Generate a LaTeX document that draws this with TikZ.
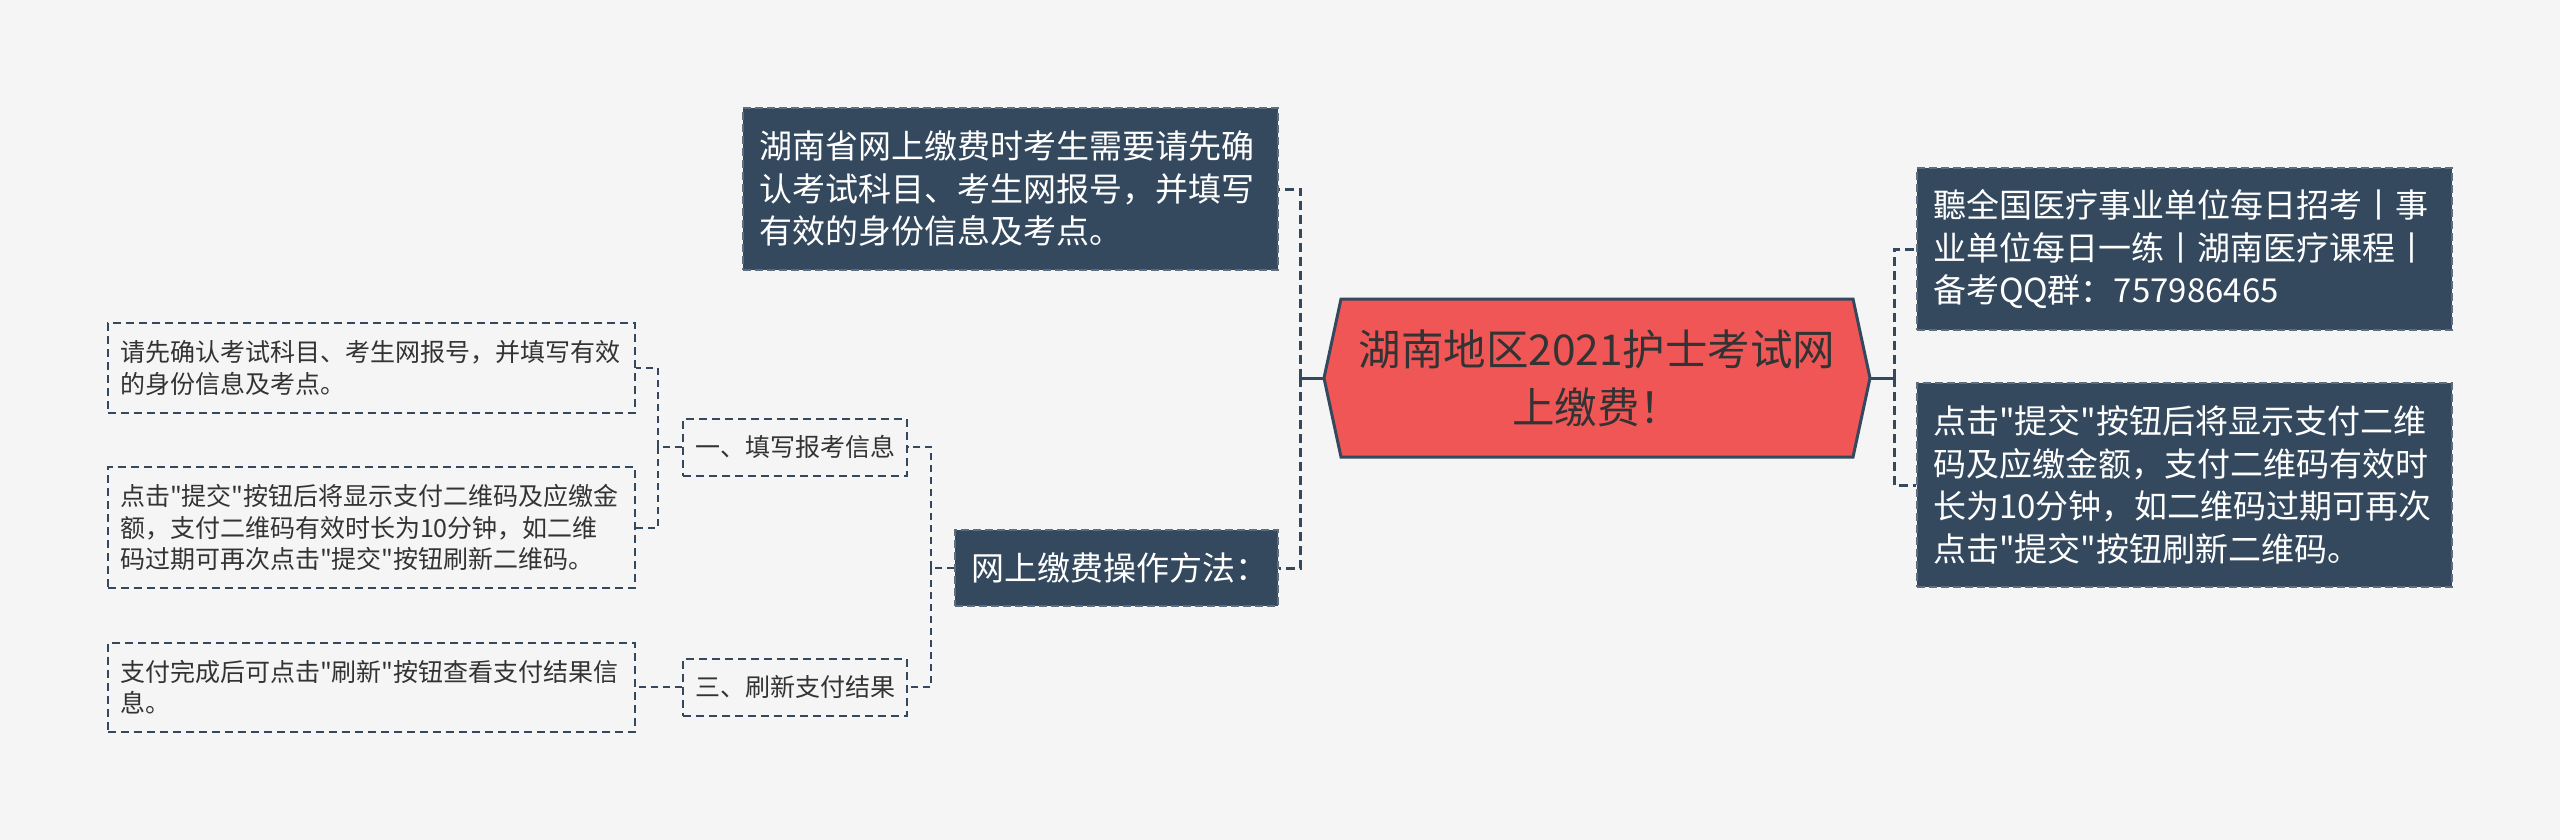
\documentclass[tikz,border=0pt]{standalone}
\usepackage{fontspec}
\newfontfamily\cjkfont{Noto Sans CJK SC}
\definecolor{pagebg}{HTML}{F5F5F5}
\definecolor{slate}{HTML}{34495E}
\definecolor{rootred}{HTML}{F05656}
\definecolor{ink}{HTML}{333333}
\tikzstyle{hexa}=[fill=rootred,draw=slate,line width=3pt,line join=miter]
\tikzstyle{rootnode}=[font=\cjkfont\fontsize{42.5}{58}\selectfont,text=ink,align=center,minimum width=546pt,minimum height=158pt,inner sep=0pt]
\tikzstyle{darkbox}=[fill=slate,draw=slate!80!white,dash pattern=on 8pt off 4pt,line width=1.5pt,text=white,align=left,inner xsep=16pt,inner ysep=0pt,text width=503pt,font=\cjkfont\fontsize{33}{42.5}\selectfont]
\tikzstyle{lightbox}=[draw=slate,dash pattern=on 8pt off 5pt,line width=2pt,text=ink,align=left,inner xsep=12pt,inner ysep=0pt,text width=503pt,font=\cjkfont\fontsize{25}{31.5}\selectfont]
\tikzstyle{trunk}=[draw=slate,line width=3pt]
\tikzstyle{link}=[draw=slate,line width=3pt,dash pattern=on 9pt off 5pt]
\tikzstyle{sublink}=[draw=slate,line width=2pt,dash pattern=on 7pt off 5pt]

\begin{document}
\begin{tikzpicture}[x=1pt,y=-1pt]
       \fill[pagebg] (0,0) rectangle (2560,840);
       \useasboundingbox (0,0) rectangle (2560,840);

       \filldraw[hexa] (1324,378) -- (1341,299) -- (1853,299) -- (1870,378) -- (1853,457) -- (1341,457) -- cycle;
       \node[rootnode] (root) at (1597,378) {湖南地区2021护士考试网\\上缴费！};

       \node[darkbox,minimum height=162pt] (upleft) at (1010.5,189) {湖南省网上缴费时考生需要请先确\\认考试科目、考生网报号，并填写\\有效的身份信息及考点。};
       \node[darkbox,text width=291pt,minimum height=76pt] (howto) at (1116.5,568) {网上缴费操作方法：};
       \node[darkbox,minimum height=162pt] (rtop) at (2184.5,249) {聽全国医疗事业单位每日招考丨事\\业单位每日一练丨湖南医疗课程丨\\备考QQ群：757986465};
       \node[darkbox,minimum height=204pt] (rbot) at (2184.5,485) {点击"提交"按钮后将显示支付二维\\码及应缴金额，支付二维码有效时\\长为10分钟，如二维码过期可再次\\点击"提交"按钮刷新二维码。};

       \node[lightbox,text width=200pt,minimum height=57pt] (sec1) at (795,447) {一、填写报考信息};
       \node[lightbox,text width=200pt,minimum height=57pt] (sec3) at (795,687) {三、刷新支付结果};
       \foreach \pos/\name/\h/\txt in {{(371.5,368)/leaf1/90/{请先确认考试科目、考生网报号，并填写有效\\的身份信息及考点。}},
           {(371.5,527.5)/leaf2/121/{点击"提交"按钮后将显示支付二维码及应缴金\\额，支付二维码有效时长为10分钟，如二维\\码过期可再次点击"提交"按钮刷新二维码。}},
           {(371.5,687)/leaf3/89/{支付完成后可点击"刷新"按钮查看支付结果信\\息。}}} {
           \node[lightbox,minimum height=\h pt] (\name) at \pos {\txt};
       }

       \draw[trunk] (root.west) -- ++(-23,0) coordinate (lbus);
       \draw[trunk] (root.east) -- ++(24,0) coordinate (rbus);
       \draw[link] (lbus) |- (upleft.east);
       \draw[link] (lbus) |- (howto.east);
       \draw[link] (rbus) |- (rtop.west);
       \draw[link] (rbus) |- (rbot.west);
       \draw[sublink] (howto.west) -- ++(-23,0) coordinate (hbus);
       \draw[sublink] (hbus) |- (sec1.east);
       \draw[sublink] (hbus) |- (sec3.east);
       \draw[sublink] (sec1.west) -- ++(-24,0) coordinate (sbus);
       \draw[sublink] (sbus) |- (leaf1.east);
       \draw[sublink] (sbus) |- (leaf2.east);
       \draw[sublink] (sec3.west) -- (leaf3.east);
\end{tikzpicture}
\end{document}
